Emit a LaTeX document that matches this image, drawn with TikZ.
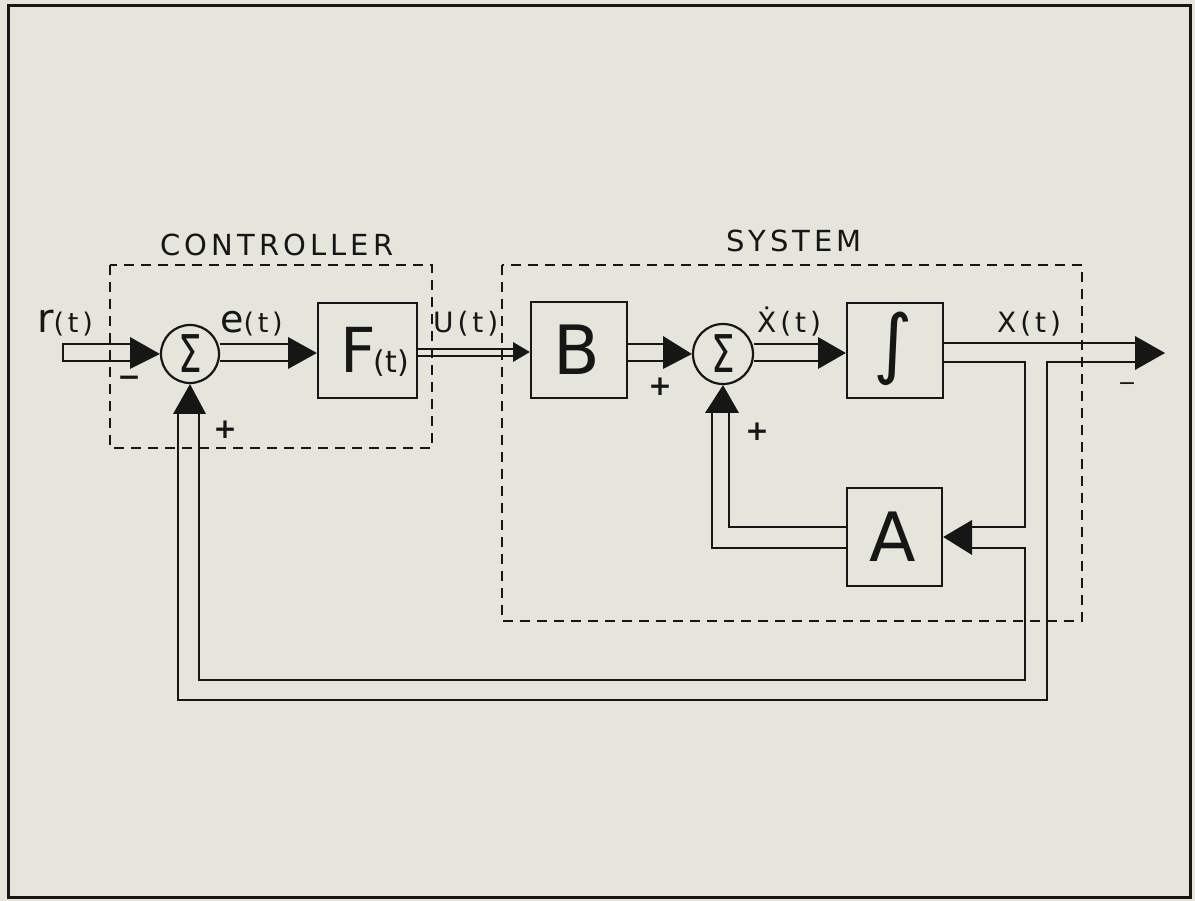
\documentclass[tikz,border=0pt]{standalone}
\usepackage{fontspec}
\setmainfont{DejaVu Sans}
\newfontfamily\lblfont[LetterSpace=14]{DejaVu Sans}
\definecolor{bg}{RGB}{229,229,220}
\definecolor{ink}{RGB}{22,22,22}
\tikzset{
  blk/.style={draw=ink, line width=2.4pt, inner sep=0pt, fill=bg},
  sumnode/.style={draw=ink, line width=2.2pt, circle, inner sep=0pt, minimum size=58pt},
  pipe/.style={draw=ink, line width=2.7pt, line join=miter},
  thin pipe/.style={draw=ink, line width=2pt},
  tip/.style={fill=ink},
  dbox/.style={draw=ink, line width=2.2pt, dash pattern=on 10pt off 7pt},
  ttl/.style={inner sep=0pt, text=ink, font=\lblfont\fontsize{29}{29}\selectfont},
  lbl/.style={inner sep=0pt, text=ink, anchor=base west},
  sgn/.style={inner sep=0pt, text=ink, font=\bfseries\fontsize{28}{28}\selectfont},
}
\begin{document}
\begin{tikzpicture}[x=1pt,y=-1pt]
\fill[bg] (0,0) rectangle (1195,901);
\useasboundingbox (0,0) rectangle (1195,901);
% outer frame
\draw[ink, line width=3pt] (8,6) rectangle (1190,897);

% dashed groups
\draw[dbox] (110,265) rectangle (432,448);
\draw[dbox] (502,265) rectangle (1082,621);
\node[ttl] (tctrl) at (277,245) {CONTROLLER};
\node[ttl] (tsys) at (794,241) {SYSTEM};

% blocks
\node[blk, minimum width=99pt, minimum height=95pt] (F) at (367.5,350.5) {};
\node[blk, minimum width=96pt, minimum height=96pt] (B) at (579,350) {};
\node[blk, minimum width=96pt, minimum height=95pt] (I) at (895,350.5) {};
\node[blk, minimum width=95pt, minimum height=98pt] (A) at (894.5,537) {};
\node[sumnode] (S1) at (190,354) {};
\node[sumnode, minimum size=60pt] (S2) at (723,354) {};

% block texts
\node[inner sep=0pt, text=ink, anchor=base west] (Ft) at (340,373)
  {\fontsize{62}{62}\selectfont F\fontsize{30}{30}\selectfont\kern-2pt(t)};
\node[inner sep=0pt, text=ink, font=\fontsize{68}{68}\selectfont] (Bt) at (577,350) {B};
\node[inner sep=0pt, text=ink, font=\fontsize{68}{68}\selectfont] (At) at (893,537) {A};
\node[inner sep=0pt, text=ink, font=\fontsize{76}{76}\selectfont] (It) at (893,349) {∫};
\node[inner sep=0pt, text=ink] (S1t) at (S1) {\scalebox{0.72}[1]{\fontsize{52}{52}\selectfont Σ}};
\node[inner sep=0pt, text=ink] (S2t) at (S2) {\scalebox{0.72}[1]{\fontsize{52}{52}\selectfont Σ}};

% signal labels
\node[lbl] (rt) at (37,333) {\lblfont\fontsize{40}{40}\selectfont r\fontsize{27}{27}\selectfont(t)};
\node[lbl] (et) at (220,333) {\lblfont\fontsize{38}{38}\selectfont e\fontsize{27}{27}\selectfont(t)};
\node[lbl] (ut) at (433,333) {\lblfont\fontsize{28}{28}\selectfont U(t)};
\node[lbl] (xdt) at (757,333) {\lblfont\fontsize{28}{28}\selectfont Ẋ(t)};
\node[lbl] (xt) at (997,333) {\lblfont\fontsize{28}{28}\selectfont X(t)};

% signs
\node[sgn] (m1) at (129,381) {−};
\node[sgn] (p1) at (225,430) {+};
\node[sgn] (p2) at (660,387) {+};
\node[sgn] (p3) at (757,432) {+};
\node[inner sep=0pt, text=ink, font=\fontsize{22}{22}\selectfont] (m2) at (1127,387) {−};

% r(t) input pipe
\draw[pipe] (130,344) -- (63,344) -- (63,361) -- (130,361);
\fill[tip] (130,337) -- (130,369) -- (S1.west) -- cycle;

% e(t) pipe
\draw[pipe] (S1.east |- 0,344) -- (288,344);
\draw[pipe] (S1.east |- 0,361) -- (288,361);
\fill[tip] (288,337) -- (288,369) -- (F.west |- 0,353) -- cycle;

% U(t) thin double line
\draw[thin pipe] (F.east |- 0,349) -- (513,349);
\draw[thin pipe] (F.east |- 0,356) -- (513,356);
\fill[tip] (513,342) -- (513,362) -- (B.west |- 0,352) -- cycle;

% B -> S2
\draw[pipe] (B.east |- 0,344) -- (663,344);
\draw[pipe] (B.east |- 0,361) -- (663,361);
\fill[tip] (663,336) -- (663,369) -- (S2.west) -- cycle;

% S2 -> integrator
\draw[pipe] (S2.east |- 0,344) -- (818,344);
\draw[pipe] (S2.east |- 0,361) -- (818,361);
\fill[tip] (818,337) -- (818,369) -- (I.west |- 0,353) -- cycle;

% output X(t)
\coordinate (out) at (1165,353);
\draw[pipe] (I.east |- 0,343) -- (1135,343);
\draw[pipe] (1135,362) -- (1047,362) -- (1047,700) -- (178,700) -- (178,414);
\fill[tip] (1135,336) -- (1135,370) -- (out) -- cycle;

% branch to A
\draw[pipe] (I.east |- 0,362) -- (1025,362) -- (1025,527) -- (972,527);
\draw[pipe] (972,548) -- (1025,548) -- (1025,680) -- (199,680) -- (199,414);
\fill[tip] (972,520) -- (972,555) -- (A.east) -- cycle;

% feedback into S1
\fill[tip] (173,414) -- (206,414) -- (S1.south) -- cycle;

% A -> S2
\draw[pipe] (A.west |- 0,527) -- (729,527) -- (729,413);
\draw[pipe] (A.west |- 0,548) -- (712,548) -- (712,413);
\fill[tip] (705,413) -- (739,413) -- (S2.south) -- cycle;
\end{tikzpicture}
\end{document}
